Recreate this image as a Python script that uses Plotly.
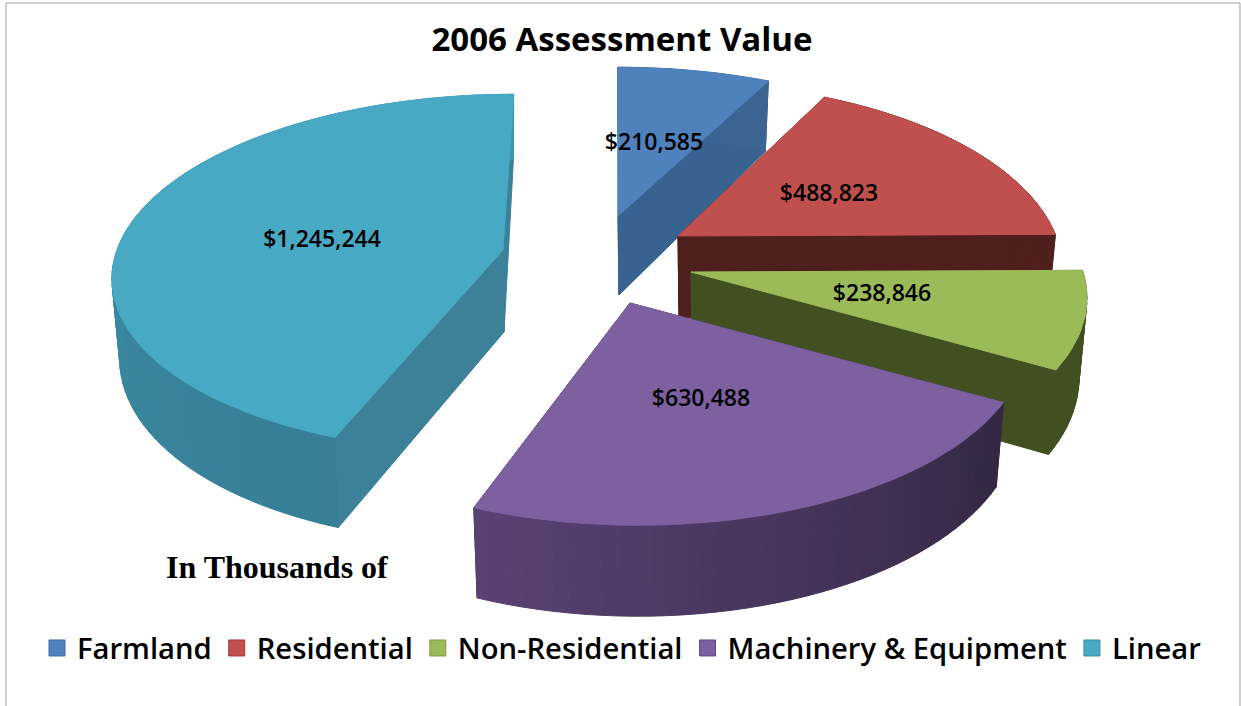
import math
import plotly.graph_objects as go

categories = ["Farmland", "Residential", "Non-Residential", "Machinery & Equipment", "Linear"]
values = [210585, 488823, 238846, 630488, 1245244]
title_text = "2006 Assessment Value"
note_text = "In Thousands of"

top_colors = ["#4f81bd", "#c0504d", "#9bbb59", "#7d60a0", "#48a9c5"]
edge_colors = ["#3d6aa0", "#9c3a38", "#7f9c44", "#64488a", "#3a8ea8"]
wall_from = ["#3a6593", "#4e1f1d", "#414f21", "#5a4274", "#3f96b0"]
wall_to = ["#3a6593", "#4e1f1d", "#414f21", "#332743", "#367f96"]
cut_colors = ["#38628f", "#4e1f1d", "#414f21", "#3a2c4e", "#3c8198"]

# Per-slice projection: rim centre, apex, horizontal/vertical radius, perspective, skew, depth tweaks
geom = {
    "Farmland": dict(c=(618, 216), apex=(618, 216), A=388, B=177, k=0.19, s=0, rim_extra=4, apex_depth=79),
    "Residential": dict(c=(678, 236), apex=(678, 236), A=378, B=182, k=0.19, s=0, rim_extra=0, apex_depth=82),
    "Non-Residential": dict(c=(691, 272), apex=(691, 272), A=392, B=182, k=0.14, s=0, rim_extra=0, apex_depth=82),
    "Machinery & Equipment": dict(c=(638, 303), apex=(630, 303), A=382, B=180, k=0.19, s=0, rim_extra=0, apex_depth=82),
    "Linear": dict(c=(503, 250), apex=(503, 250), A=386, B=176, k=0.13, s=12, rim_extra=0, apex_depth=82),
}
label_pos = [(654, 144), (829, 195), (882, 295), (701, 400), (322, 241)]
draw_order = [0, 1, 4, 2, 3]


def hex_rgb(h):
    return tuple(int(h[i:i + 2], 16) for i in (1, 3, 5))


def mix(a, b, t):
    ra, rb = hex_rgb(a), hex_rgb(b)
    return "rgb(%d,%d,%d)" % tuple(round(x + (y - x) * t) for x, y in zip(ra, rb))


def rim(g, deg):
    t = math.radians(deg)
    X, Y = math.sin(t), math.cos(t)
    d = 1 + g["k"] * Y
    return g["c"][0] + (g["A"] * X + g["s"] * Y) / d, g["c"][1] - g["B"] * Y / d, Y


def drop(g, p, Y):
    depth = 78 - 13 * Y + g["rim_extra"]
    return g["c"][0] + (p[0] - g["c"][0]) * 0.98, p[1] + depth


def apex_drop(g):
    return g["apex"][0] + 1, g["apex"][1] + g["apex_depth"]


total = sum(values)
angles = []
running = 0
for v in values:
    a0 = running / total * 360
    running += v
    angles.append((a0, running / total * 360))

fig = go.Figure()


def poly(points, color, line=None, width=1):
    xs = [p[0] for p in points] + [points[0][0]]
    ys = [p[1] for p in points] + [points[0][1]]
    fig.add_trace(go.Scatter(
        x=xs, y=ys, mode="lines", fill="toself", fillcolor=color,
        line=dict(color=line or color, width=width), showlegend=False, hoverinfo="skip"))


for i in draw_order:
    g = geom[categories[i]]
    a0, a1 = angles[i]
    n = max(4, int((a1 - a0) / 2))
    ths = [a0 + (a1 - a0) * j / n for j in range(n + 1)]
    pts = [rim(g, t) for t in ths]
    # cut faces
    for end in (pts[0], pts[-1]):
        poly([(end[0], end[1]), g["apex"], apex_drop(g), drop(g, end, end[2])], cut_colors[i])
    # outer wall
    for j in range(n):
        p, q = pts[j], pts[j + 1]
        t = j / n
        if i in (3, 4):
            t = 1 - t
        poly([(p[0], p[1]), (q[0], q[1]), drop(g, q, q[2]), drop(g, p, p[2])],
             mix(wall_from[i], wall_to[i], t))
    # top face
    poly([g["apex"]] + [(p[0], p[1]) for p in pts], top_colors[i])

fig.add_trace(go.Scatter(
    x=[p[0] for p in label_pos], y=[p[1] for p in label_pos], mode="text",
    text=["$" + format(v, ",") for v in values], textposition="middle center",
    textfont=dict(family="Open Sans", size=23, color="#000000", weight=600),
    showlegend=False, hoverinfo="skip"))

for c, col, e in zip(categories, top_colors, edge_colors):
    fig.add_trace(go.Scatter(
        x=[None], y=[None], mode="markers", name=c,
        marker=dict(symbol="square", size=18, color=col, line=dict(color=e, width=1))))

fig.update_layout(
    width=1241, height=706, autosize=False,
    margin=dict(l=0, r=0, t=0, b=0),
    paper_bgcolor="white", plot_bgcolor="white",
    xaxis=dict(range=[0, 1241], visible=False, fixedrange=True),
    yaxis=dict(range=[706, 0], visible=False, fixedrange=True),
    title=dict(text=title_text, x=622 / 1241, xanchor="center",
               y=1 - 39 / 706, yanchor="middle",
               font=dict(family="Open Sans", size=33, color="#000000", weight=700)),
    legend=dict(orientation="h", x=37 / 1241, xanchor="left", y=1 - 648 / 706, yanchor="middle",
                font=dict(family="Open Sans", size=29.2, color="#000000", weight=600),
                bgcolor="rgba(0,0,0,0)", itemclick=False, itemdoubleclick=False),
    annotations=[dict(text="<b>" + note_text + "</b>", x=277, y=567, xref="x", yref="y",
                      showarrow=False, font=dict(family="Liberation Serif", size=32, color="#000000"))],
    shapes=[
        dict(type="line", xref="x", yref="y", x0=6, x1=1240, y0=3, y1=3, line=dict(color="#a0a0a0", width=1)),
        dict(type="line", xref="x", yref="y", x0=6, x1=6, y0=3, y1=706, line=dict(color="#a0a0a0", width=1)),
        dict(type="line", xref="x", yref="y", x0=1240, x1=1240, y0=3, y1=706, line=dict(color="#a0a0a0", width=1)),
    ],
)
fig.write_html("out.html", post_script="document.body.style.margin='0';",
               config=dict(displayModeBar=False))
